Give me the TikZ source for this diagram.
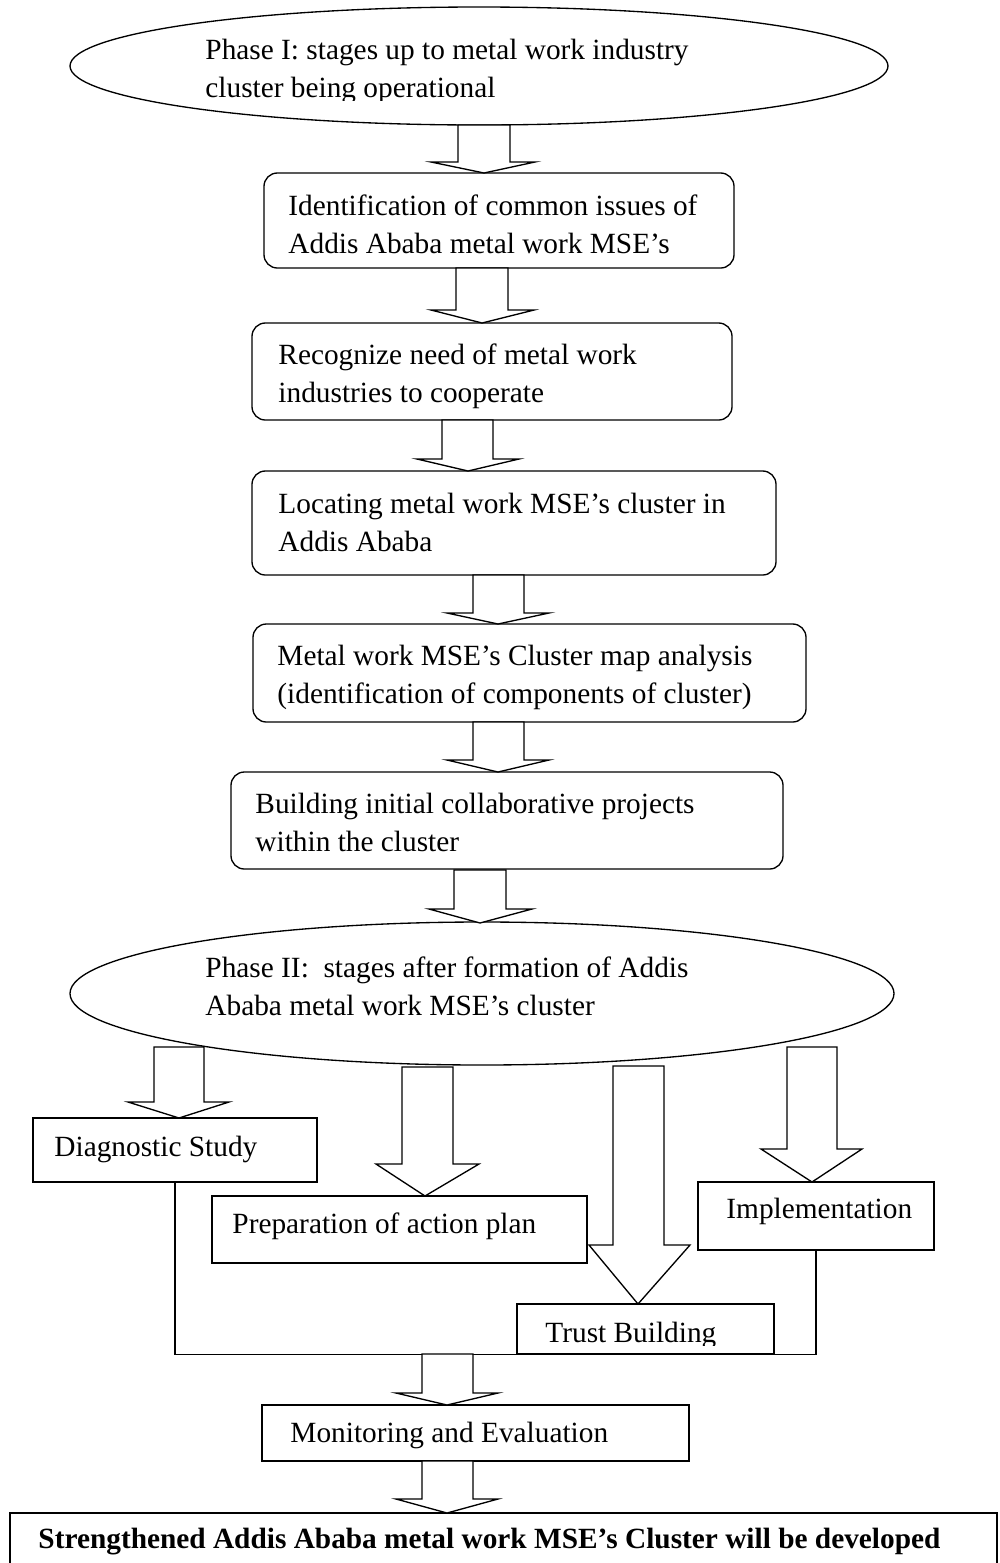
\documentclass[tikz,border=0pt]{standalone}
\usepackage{fontspec}
\setmainfont{Liberation Serif}
\usetikzlibrary{shapes.geometric,fit}
\newcommand\twol[2]{\begin{tabular}[t]{@{}l@{}}#1\\#2\end{tabular}}
% block arrow: xl xr top base headleft headright tipx tipy
\newcommand\barr[8]{%
  \draw[barrow] (#1,#3) -- (#2,#3) -- (#2,#4) -- (#6,#4) -- (#7,#8) -- (#5,#4) -- (#1,#4) -- cycle;}
\begin{document}
\begin{tikzpicture}[x=0.45pt,y=-0.45pt,
  rbox/.style={draw, line width=0.6pt, rounded corners=6pt, inner sep=0pt},
  sbox/.style={draw, line width=0.6pt, inner sep=0pt},
  oval/.style={draw, ellipse, line width=0.6pt, inner sep=0pt},
  txt/.style={anchor=base west, inner sep=0pt, font=\fontsize{13.2}{17.3}\selectfont},
  barrow/.style={draw, fill=white, line width=0.6pt, line join=miter},
  link/.style={draw, line width=0.6pt}]
\useasboundingbox (0,0) rectangle (999,1563);
\clip (0,0) rectangle (999,1563);

% ---- Phase I ----
\node[oval, minimum width=368.1pt, minimum height=53.1pt] (e1) at (479,66) {};
\begin{scope}
  \clip (0,0) rectangle (999,100);
  \node[txt] (t0) at (205,59) {\twol{Phase I: stages up to metal work industry}{cluster being operational}};
\end{scope}

\node[rbox, fit={(264,173) (734,268)}] (b1) {};
\node[txt] (t1) at (288,215) {\twol{Identification of common issues of}{Addis Ababa metal work MSE's}};

\node[rbox, fit={(252,323) (732,420)}] (b2) {};
\node[txt] (t2) at (278,364) {\twol{Recognize need of metal work}{industries to cooperate}};

\node[rbox, fit={(252,471) (776,575)}] (b3) {};
\node[txt] (t3) at (278,513) {\twol{Locating metal work MSE's cluster in}{Addis Ababa}};

\node[rbox, fit={(253,624) (806,722)}] (b4) {};
\node[txt] (t4) at (277,665) {\twol{Metal work MSE's Cluster map analysis}{(identification of components of cluster)}};

\node[rbox, fit={(231,772) (783,869)}] (b5) {};
\node[txt] (t5) at (255,813) {\twol{Building initial collaborative projects}{within the cluster}};

% ---- Phase II ----
\node[oval, minimum width=370.8pt, minimum height=64.35pt] (e2) at (482,993.5) {};
\node[txt] (t6) at (205,977) {\twol{Phase II:\ \ stages after formation of Addis}{Ababa metal work MSE's cluster}};

\node[sbox, fit={(33,1118) (317,1182)}] (diag) {};
\node[txt] (t7) at (54,1156) {Diagnostic Study};

\node[sbox, fit={(212,1196) (587,1263)}] (prep) {};
\node[txt] (t8) at (232,1233) {Preparation of action plan};

\node[sbox, fit={(698,1182) (934,1250)}] (impl) {};
\node[txt] (t9) at (726,1218) {Implementation};

\node[sbox, fit={(517,1304) (774,1354)}] (trust) {};
\begin{scope}
  \clip (0,0) rectangle (999,1345);
  \node[txt] (t10) at (545,1342) {Trust Building};
\end{scope}

\draw[link] (diag.south) -- (diag.south |- trust.south) -| (impl.south);

\node[sbox, fit={(262,1405) (689,1461)}] (mon) {};
\node[txt] (t11) at (290,1442) {Monitoring and Evaluation};

\node[draw, line width=1pt, inner sep=0pt, fit={(10,1513) (997,1620)}] (final) {};
\node[txt, font=\fontsize{13.2}{17.3}\selectfont\bfseries] (t12) at (38,1548) {Strengthened Addis Ababa metal work MSE's Cluster will be developed};

% ---- block arrows ----
\barr{458}{510}{125}{162}{431}{535}{484}{173}
\barr{456}{508}{268}{310}{431}{534}{482}{323}
\barr{442}{493}{420}{459}{417}{519}{468}{471}
\barr{473}{524}{575}{613}{447}{549}{498}{624}
\barr{473}{524}{722}{760}{447}{549}{498}{772}
\barr{454}{506}{870}{909}{429}{532}{480}{923}
\barr{154}{204}{1047}{1102}{128}{229}{179}{1118}
\barr{402}{453}{1067}{1164}{376}{479}{425}{1196}
\barr{613}{664}{1066}{1245}{589}{690}{638}{1304}
\barr{787}{837}{1047}{1149}{761}{862}{812}{1182}
\barr{422}{473}{1354}{1393}{396}{498}{447}{1405}
\barr{422}{473}{1461}{1499}{396}{498}{447}{1513}
\end{tikzpicture}
\end{document}
